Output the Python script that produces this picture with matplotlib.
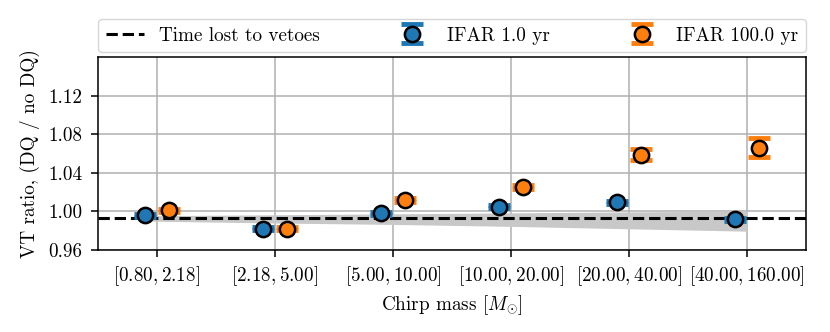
import numpy as np
import matplotlib
matplotlib.use("Agg")
import matplotlib.pyplot as plt

plt.rcParams['font.family'] = 'serif'
plt.rcParams['font.serif'] = ['cmr10']
plt.rcParams['mathtext.fontset'] = 'cm'
plt.rcParams['axes.formatter.use_mathtext'] = True
plt.rcParams['font.size'] = 13.8
plt.rcParams['axes.linewidth'] = 1.1
plt.rcParams['xtick.major.size'] = 5.2
plt.rcParams['ytick.major.size'] = 5.2
plt.rcParams['xtick.major.width'] = 1.1
plt.rcParams['ytick.major.width'] = 1.1

categories = [r"$[0.80, 2.18]$", r"$[2.18, 5.00]$", r"$[5.00, 10.00]$",
              r"$[10.00, 20.00]$", r"$[20.00, 40.00]$", r"$[40.00, 160.00]$"]
ifar1 = [0.996, 0.982, 0.998, 1.005, 1.0095, 0.992]
ifar1_err = [0.0015, 0.0015, 0.0015, 0.0015, 0.0018, 0.0015]
ifar100 = [1.001, 0.982, 1.012, 1.025, 1.059, 1.066]
ifar100_err = [0.0015, 0.0015, 0.002, 0.002, 0.0055, 0.0098]
veto_level = 0.993
shade_x = [-0.1, 1, 2, 3, 4, 5]
shade_low = [0.990, 0.988, 0.9865, 0.9845, 0.982, 0.9795]
shade_high = [0.9955, 0.9965, 0.9975, 0.9985, 0.9995, 1.0003]

fig = plt.figure(figsize=(8.3, 3.32), dpi=100)
ax = fig.add_axes([0.118, 0.247, 0.853, 0.581])
x = np.arange(len(categories))

ax.grid(True, color='#b0b0b0', linewidth=1.1, zorder=0)
ax.set_axisbelow(True)
ax.fill_between(shade_x, shade_low, shade_high, color='#c8c8c8', alpha=1.0, zorder=1, linewidth=0)
ax.axhline(veto_level, color='black', linestyle='--', linewidth=2.2,
           label='Time lost to vetoes', zorder=2)
for xs, vals, errs, col, lab in [(x - 0.1, ifar1, ifar1_err, 'tab:blue', 'IFAR 1.0 yr'),
                                 (x + 0.1, ifar100, ifar100_err, 'tab:orange', 'IFAR 100.0 yr')]:
    cont = ax.errorbar(xs, vals, yerr=errs, fmt='o', color=col, mfc=col, mec='black',
                       ms=11, capsize=8, capthick=3.5, elinewidth=1.5,
                       label=lab, zorder=3)
    cont[0].set_markeredgewidth(1.8)

ax.set_xlim(-0.5, 5.5)
ax.set_ylim(0.96, 1.16)
ax.set_yticks([0.96, 1.00, 1.04, 1.08, 1.12])
ax.set_yticklabels(['0.96', '1.00', '1.04', '1.08', '1.12'])
ax.set_xticks(x)
ax.set_xticklabels(categories)
ax.tick_params(axis='x', pad=5)
ax.tick_params(axis='y', pad=6)
ax.set_xlabel(r"Chirp mass $[M_{\odot}]$", labelpad=4)
ax.set_ylabel("VT ratio, (DQ / no DQ)", labelpad=6)

ax.legend(loc='lower left', bbox_to_anchor=(0, 1.025, 1, 0.2), mode='expand', ncol=3,
          borderaxespad=0, frameon=True, fontsize=13.8)

fig.savefig('out.png', dpi=100)
